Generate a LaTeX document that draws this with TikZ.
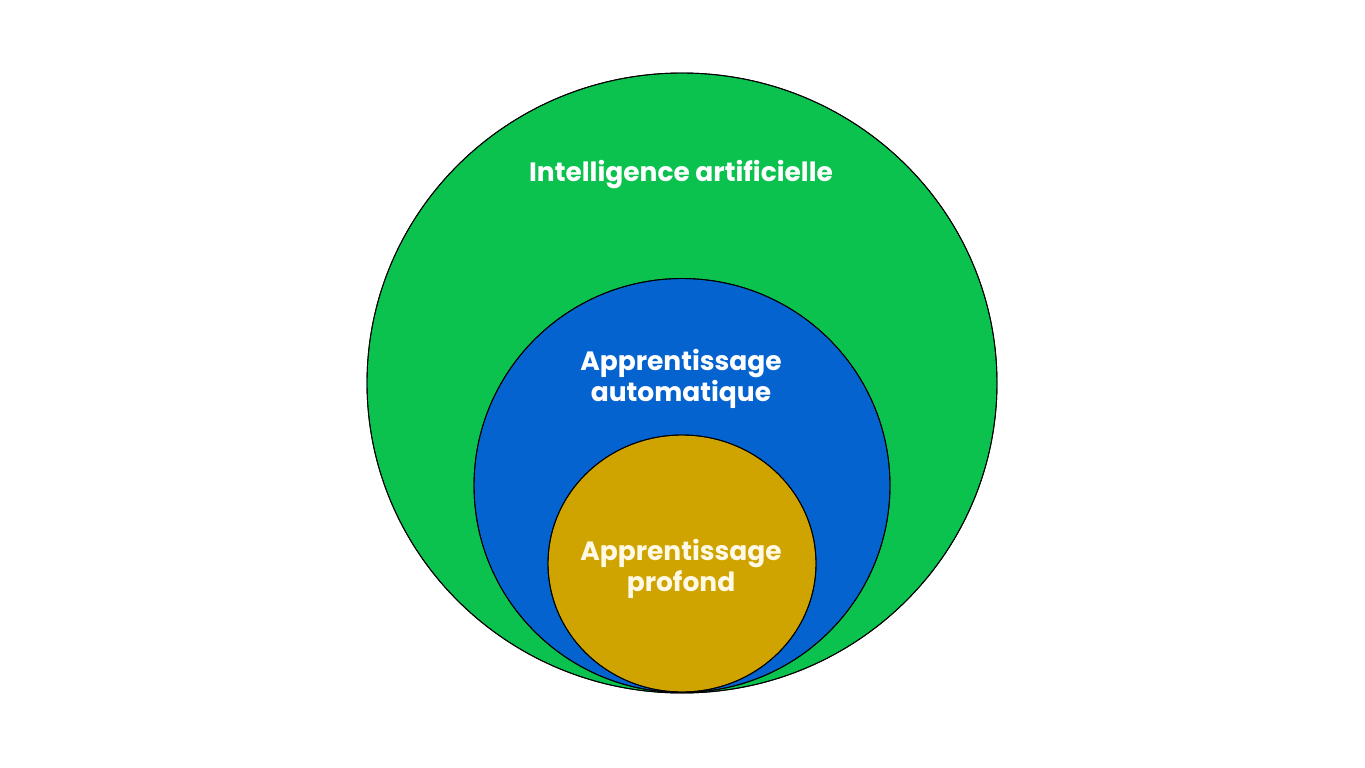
\documentclass[tikz,border=0pt]{standalone}
\usepackage{fontspec}
\setmainfont{Poppins}[UprightFont=* Bold]
\definecolor{aigreen}{HTML}{0BC24F}
\definecolor{mlblue}{HTML}{0563CF}
\definecolor{dlgold}{HTML}{CFA400}
\definecolor{dltext}{HTML}{FFF9E6}
\begin{document}
\begin{tikzpicture}[x=1pt,y=-1pt,
  ring/.style={draw=black,line width=0.9pt},
  lbl/.style={text=white,font=\fontsize{26.5}{31}\selectfont,align=center,inner sep=0pt}]
\useasboundingbox[fill=white] (0,0) rectangle (1365,768);
\fill[ring,fill=aigreen] (682,383) ellipse [x radius=315, y radius=310];
\fill[ring,fill=mlblue] (682,485.5) ellipse [x radius=208, y radius=207];
\fill[ring,fill=dlgold] (682,563.5) ellipse [x radius=134, y radius=128.5];
\draw[ring] (682,383) ellipse [x radius=315, y radius=310];
\draw[ring] (682,485.5) ellipse [x radius=208, y radius=207];
\draw[ring] (682,563.5) ellipse [x radius=134, y radius=128.5];
\node[lbl] (ai) at (681,174.5) {Intelligence artificielle};
\node[lbl] (ml) at (681,379) {Apprentissage\\automatique};
\node[lbl,text=dltext] (dl) at (681,569) {Apprentissage\\profond};
\end{tikzpicture}
\end{document}
